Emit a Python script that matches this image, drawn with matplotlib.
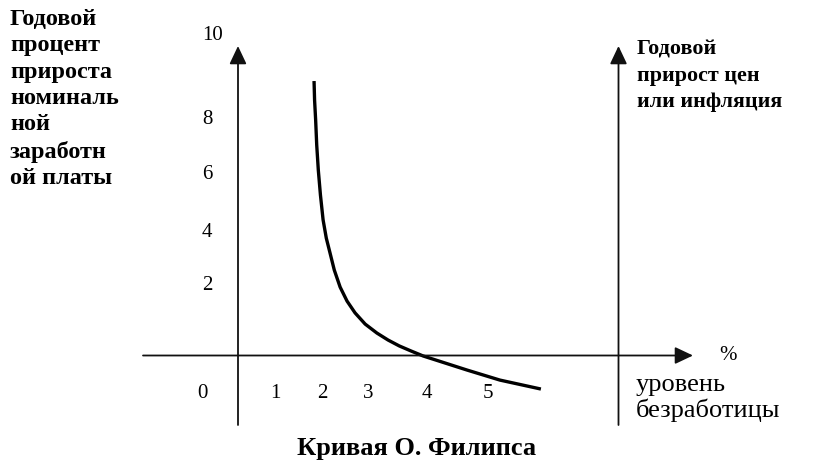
import matplotlib
matplotlib.use("Agg")
import matplotlib.pyplot as plt

W, H = 822, 466

# unemployment % (x) and nominal wage growth % (y)
curve_x = [1.83, 1.84, 1.86, 1.88, 1.91, 1.95, 2.00, 2.06, 2.13, 2.21, 2.32, 2.45,
           2.60, 2.79, 3.01, 3.22, 3.43, 3.65, 3.88, 4.29, 4.70, 5.32, 6.09]
curve_y = [9.82, 9.14, 8.43, 7.54, 6.64, 5.75, 4.86, 4.21, 3.68, 3.07, 2.46, 1.96,
           1.54, 1.14, 0.82, 0.57, 0.36, 0.18, 0.00, -0.25, -0.50, -0.86, -1.18]

x_tick_labels = ["0", "1", "2", "3", "4", "5"]
y_tick_labels = ["10", "8", "6", "4", "2"]

left_label = "Годовой\nпроцент\nприроста\nноминаль\nной\nзаработн\nой платы"
right_label = "Годовой\nприрост цен\nили инфляция"
x_label = "уровень\nбезработицы"
title = "Кривая О. Филипса"

# pixel -> data mapping of the drawing
X0, SX = 216.6, 53.25
Y0, SY = 356.0, 28.0

def dx(px):
    return (px - X0) / SX

def dy(py):
    return (Y0 - py) / SY

plt.rcParams['font.family'] = ['Liberation Serif', 'DejaVu Serif']

fig = plt.figure(figsize=(W / 100, H / 100), dpi=100)
ax = fig.add_axes([0, 0, 1, 1])
ax.set_xlim(dx(0), dx(W))
ax.set_ylim(dy(H), dy(0))
ax.axis("off")

arrow = dict(arrowstyle="-|>,head_length=0.55,head_width=0.26", mutation_scale=20,
             lw=1.3, color="#111111", shrinkA=0, shrinkB=0)

# left wage axis
ax.annotate("", xy=(dx(238), dy(46)), xytext=(dx(238), dy(425)), arrowprops=arrow)
# right inflation axis
ax.annotate("", xy=(dx(618.5), dy(46)), xytext=(dx(618.5), dy(425)), arrowprops=arrow)
# horizontal unemployment axis
ax.annotate("", xy=(dx(693), dy(355.5)), xytext=(dx(143), dy(355.5)), arrowprops=arrow)

ax.plot(curve_x, curve_y, color="black", lw=2.4, solid_capstyle="butt", solid_joinstyle="round")

def ftext(px, py, s, **kw):
    fig.text(px / W, 1 - py / H, s, **kw)

x_tick_px = [202, 275, 322, 368, 427, 488]
for lab, px in zip(x_tick_labels, x_tick_px):
    ftext(px, 394, lab, ha="center", va="center", fontsize=15)

y_tick_px = [36, 119, 175, 232, 285]
y_tick_x = [213, 207, 207, 207, 207]
for lab, px, py in zip(y_tick_labels, y_tick_x, y_tick_px):
    ftext(px, py, lab, ha="center", va="center", fontsize=15)

ftext(10, 9, left_label, ha="left", va="top", fontsize=17.5, fontweight="bold", linespacing=1.33)
ftext(637, 40, right_label, ha="left", va="top", fontsize=15.8, fontweight="bold", linespacing=1.39)
ftext(728, 355, "%", ha="center", va="center", fontsize=15)
ftext(636, 398, x_label, ha="left", va="center", fontsize=19, linespacing=1.11)
ftext(417, 448, title, ha="center", va="center", fontsize=19, fontweight="bold")

fig.savefig("out.png", dpi=100)
